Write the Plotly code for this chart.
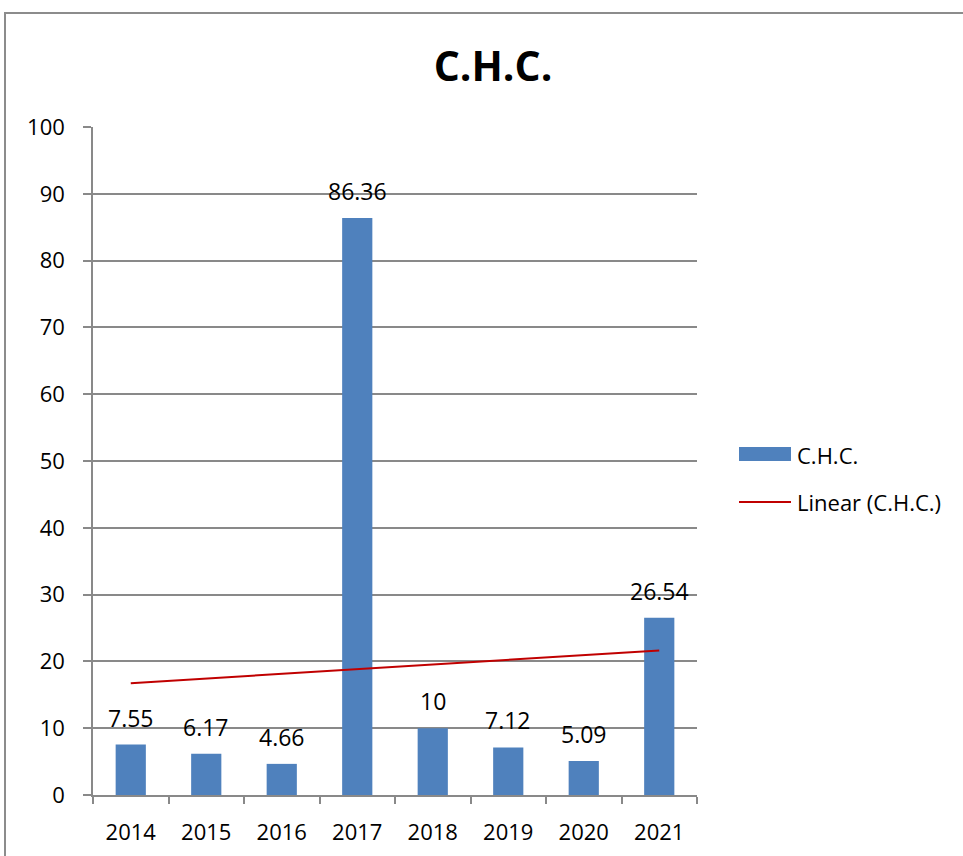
import numpy as np
import plotly.graph_objects as go

years = ["2014", "2015", "2016", "2017", "2018", "2019", "2020", "2021"]
values = [7.55, 6.17, 4.66, 86.36, 10, 7.12, 5.09, 26.54]
labels = ["7.55", "6.17", "4.66", "86.36", "10", "7.12", "5.09", "26.54"]
y_ticks = [0, 10, 20, 30, 40, 50, 60, 70, 80, 90, 100]
series_name = "C.H.C."
trend_name = "Linear (C.H.C.)"

# linear trend (least squares, like Excel "Linear" trendline)
xi = np.arange(len(values))
slope, intercept = np.polyfit(xi, values, 1)
trend = slope * xi + intercept

FONT = "Open Sans"
BAR_COLOR = "#4F81BD"
LINE_COLOR = "#C00000"
GRID = "#898989"
W, H = 963, 856
L, R, T, B = 93, 266, 127, 61
pw, ph = W - L - R, H - T - B


def px(x):
    return (x - L) / pw


def py(y):
    return 1 - (y - T) / ph


fig = go.Figure()
fig.add_trace(go.Bar(
    x=xi, y=values, name=series_name, width=0.4,
    marker=dict(color=BAR_COLOR, line=dict(width=0)), showlegend=False,
))
fig.add_trace(go.Scatter(
    x=xi, y=trend, name=trend_name, mode="lines",
    line=dict(color=LINE_COLOR, width=2), showlegend=False,
))

for i, v, lab in zip(xi, values, labels):
    fig.add_annotation(x=i, y=v, text=lab, showarrow=False, yanchor="middle",
                       yshift=27, font=dict(family=FONT, size=23, color="#000"))

# outer chart border
fig.add_shape(type="rect", xref="paper", yref="paper",
              x0=px(5), x1=px(W + 20), y0=py(H + 20), y1=py(13),
              line=dict(color="#8C8C8C", width=2), fillcolor="rgba(0,0,0,0)", layer="below")

# legend (drawn manually to match wide Excel legend keys)
fig.add_shape(type="rect", xref="paper", yref="paper",
              x0=px(739), x1=px(791), y0=py(461), y1=py(447),
              fillcolor=BAR_COLOR, line=dict(width=0))
fig.add_shape(type="line", xref="paper", yref="paper",
              x0=px(739), x1=px(791), y0=py(502), y1=py(502),
              line=dict(color=LINE_COLOR, width=2))
fig.add_annotation(xref="paper", yref="paper", x=px(795), y=py(455), text=series_name,
                   showarrow=False, xanchor="left", yanchor="middle",
                   font=dict(family=FONT, size=22, color="#000"))
fig.add_annotation(xref="paper", yref="paper", x=px(795), y=py(502), text=trend_name,
                   showarrow=False, xanchor="left", yanchor="middle",
                   font=dict(family=FONT, size=22, color="#000"))

fig.update_layout(
    width=W, height=H,
    margin=dict(l=L, r=R, t=T, b=B, autoexpand=False),
    paper_bgcolor="white", plot_bgcolor="white",
    font=dict(family=FONT, size=22, color="#000"),
    title=dict(text="<b>C.H.C.</b>", x=493 / W, xref="container", xanchor="center",
               y=1 - 67 / H, yref="container", yanchor="middle",
               font=dict(family=FONT, size=41, color="#000")),
    showlegend=False,
)
fig.update_xaxes(range=[-0.5, 7.5], tickvals=xi, ticktext=years, showline=True,
                 linecolor=GRID, linewidth=1.5, ticks="", showgrid=False,
                 zeroline=False, ticklabelstandoff=17,
                 tickfont=dict(family=FONT, size=22, color="#000"))
# tick marks at category boundaries via minor ticks
fig.update_xaxes(minor=dict(tickvals=[i - 0.5 for i in range(len(years) + 1)],
                            ticks="outside", ticklen=7, tickcolor=GRID, tickwidth=1.5,
                            showgrid=False))
fig.update_yaxes(range=[0, 100], tickvals=y_ticks, showline=True, linecolor=GRID,
                 linewidth=1.5, ticks="outside", ticklen=8, tickcolor=GRID, tickwidth=1.5,
                 showgrid=True, gridcolor=GRID, gridwidth=1.5, zeroline=False,
                 ticklabelstandoff=14,
                 tickfont=dict(family=FONT, size=22, color="#000"))

fig.write_html("out.html", config={"displayModeBar": False},
               post_script="document.body.style.margin='0';")
